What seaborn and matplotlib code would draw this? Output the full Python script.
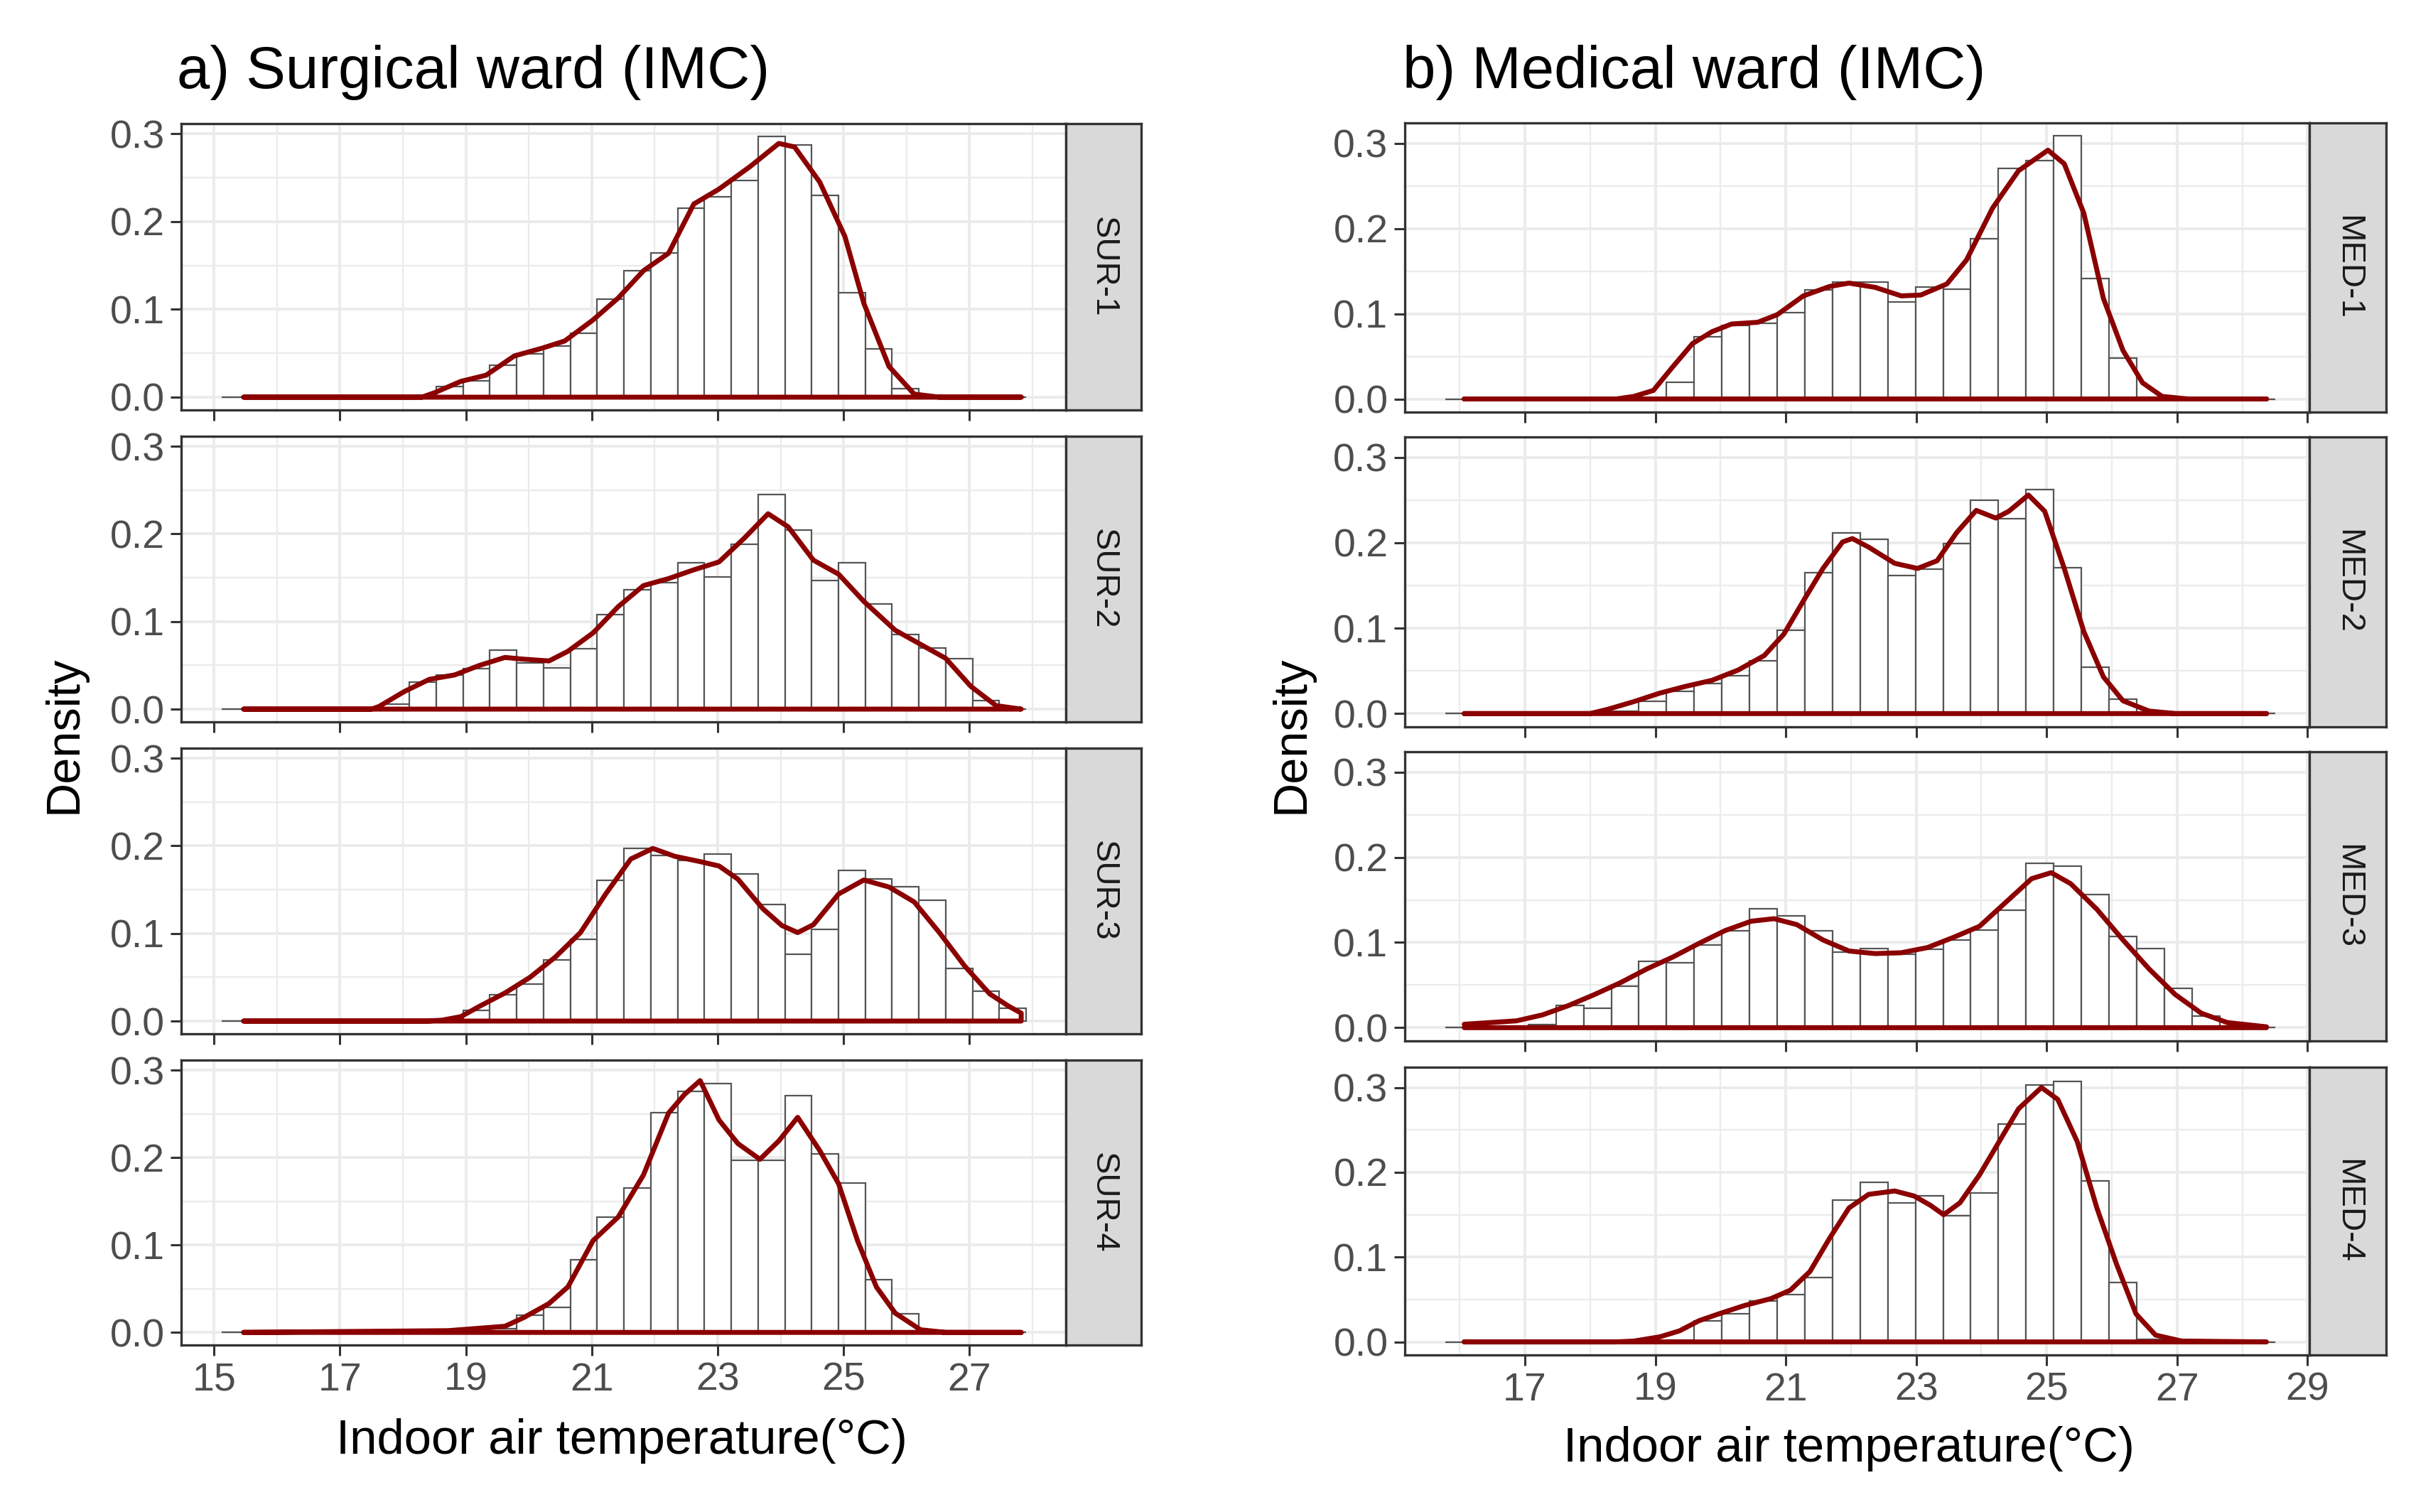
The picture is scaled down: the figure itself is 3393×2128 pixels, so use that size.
import numpy as np
import pandas as pd
import matplotlib
matplotlib.use("Agg")
import matplotlib.pyplot as plt
import seaborn as sns
from matplotlib.ticker import FixedLocator

sns.set_theme(style="white")
plt.rcParams['font.family'] = ['Liberation Sans', 'DejaVu Sans']

# histogram bins (30 bins per ward, shared across the facets of one ward)
sur_bin_start, sur_bin_width = 15.12, 0.426
med_bin_start, med_bin_width = 15.78, 0.424
n_bins = 30

# bar heights (density), one value per bin
sur1_hist = [0, 0, 0, 0, 0, 0, 0, 0, 0.012, 0.019, 0.036, 0.049, 0.058, 0.073, 0.112,
             0.144, 0.164, 0.215, 0.228, 0.247, 0.297, 0.287, 0.230, 0.119, 0.055, 0.010,
             0, 0, 0, 0]
sur2_hist = [0, 0, 0, 0, 0, 0, 0.006, 0.031, 0.039, 0.046, 0.067, 0.053, 0.047, 0.069,
             0.108, 0.136, 0.144, 0.167, 0.151, 0.188, 0.245, 0.204, 0.147, 0.167, 0.120,
             0.085, 0.070, 0.058, 0.010, 0]
sur3_hist = [0, 0, 0, 0, 0, 0, 0, 0, 0, 0.012, 0.030, 0.042, 0.070, 0.093, 0.161, 0.197,
             0.189, 0.183, 0.191, 0.168, 0.133, 0.076, 0.105, 0.172, 0.162, 0.153, 0.138,
             0.060, 0.034, 0.015]
sur4_hist = [0, 0, 0, 0, 0, 0, 0, 0, 0, 0, 0.004, 0.020, 0.029, 0.083, 0.132, 0.165,
             0.251, 0.276, 0.285, 0.197, 0.197, 0.271, 0.204, 0.171, 0.060, 0.021,
             0, 0, 0, 0]
med1_hist = [0, 0, 0, 0, 0, 0, 0, 0, 0.020, 0.073, 0.086, 0.089, 0.101, 0.128, 0.137,
             0.137, 0.114, 0.131, 0.129, 0.188, 0.271, 0.280, 0.309, 0.141, 0.048, 0.002,
             0, 0, 0, 0]
med2_hist = [0, 0, 0, 0, 0, 0, 0.003, 0.014, 0.026, 0.035, 0.044, 0.062, 0.098, 0.165,
             0.212, 0.204, 0.162, 0.169, 0.199, 0.250, 0.228, 0.262, 0.171, 0.054, 0.017,
             0, 0, 0, 0, 0]
med3_hist = [0, 0, 0, 0.004, 0.026, 0.023, 0.049, 0.078, 0.076, 0.097, 0.114, 0.140,
             0.131, 0.114, 0.089, 0.093, 0.086, 0.092, 0.103, 0.115, 0.138, 0.193, 0.190,
             0.156, 0.107, 0.093, 0.046, 0.014, 0.002, 0]
med4_hist = [0, 0, 0, 0, 0, 0, 0, 0, 0.002, 0.025, 0.033, 0.048, 0.056, 0.076, 0.167,
             0.188, 0.164, 0.172, 0.149, 0.176, 0.257, 0.303, 0.307, 0.190, 0.070, 0.003,
             0, 0, 0, 0]

# density curves
sur1_dx = [15.47, 18.30, 18.50, 18.92, 19.32, 19.77, 20.22, 20.57, 21.02, 21.42, 21.82,
           22.22, 22.62, 23.02, 23.52, 23.97, 24.22, 24.62, 25.02, 25.32, 25.72, 26.12,
           26.52, 27.82]
sur1_dy = [0, 0, 0.005, 0.018, 0.025, 0.047, 0.056, 0.064, 0.088, 0.113, 0.144, 0.164,
           0.220, 0.237, 0.263, 0.289, 0.285, 0.245, 0.183, 0.107, 0.035, 0.0035, 0, 0]
sur2_dx = [15.47, 17.50, 17.62, 18.02, 18.42, 18.82, 19.22, 19.62, 19.92, 20.32, 20.62,
           21.02, 21.42, 21.82, 22.22, 22.62, 23.02, 23.42, 23.80, 24.12, 24.52, 24.92,
           25.32, 25.82, 26.22, 26.62, 27.02, 27.42, 27.82]
sur2_dy = [0, 0, 0.003, 0.020, 0.034, 0.039, 0.050, 0.059, 0.057, 0.055, 0.066, 0.087,
           0.117, 0.141, 0.149, 0.159, 0.168, 0.195, 0.223, 0.208, 0.170, 0.154, 0.123,
           0.090, 0.074, 0.058, 0.026, 0.004, 0]
sur3_dx = [15.47, 18.40, 18.62, 18.92, 19.22, 19.62, 20.02, 20.42, 20.82, 21.22, 21.62,
           21.97, 22.32, 22.72, 23.02, 23.32, 23.72, 24.02, 24.27, 24.52, 24.92, 25.32,
           25.72, 26.12, 26.52, 26.92, 27.32, 27.62, 27.82]
sur3_dy = [0, 0, 0.001, 0.005, 0.017, 0.032, 0.050, 0.073, 0.101, 0.145, 0.185, 0.197,
           0.188, 0.182, 0.177, 0.162, 0.128, 0.109, 0.101, 0.110, 0.145, 0.161, 0.153,
           0.136, 0.101, 0.063, 0.031, 0.017, 0.009]
sur4_dx = [15.47, 18.72, 19.62, 19.92, 20.32, 20.62, 21.02, 21.42, 21.82, 22.22, 22.47,
           22.72, 23.02, 23.32, 23.67, 23.97, 24.27, 24.62, 24.92, 25.22, 25.52, 25.82,
           26.22, 26.62, 27.82]
sur4_dy = [0, 0.002, 0.007, 0.017, 0.033, 0.052, 0.105, 0.132, 0.180, 0.251, 0.272,
           0.288, 0.243, 0.216, 0.198, 0.219, 0.246, 0.208, 0.170, 0.105, 0.052, 0.022,
           0.003, 0, 0]

med1_dx = [16.07, 18.40, 18.67, 18.97, 19.27, 19.57, 19.87, 20.17, 20.57, 20.87, 21.27,
           21.67, 21.97, 22.37, 22.77, 23.07, 23.47, 23.77, 24.17, 24.57, 25.02, 25.27,
           25.57, 25.87, 26.17, 26.47, 26.77, 27.17, 28.37]
med1_dy = [0, 0, 0.003, 0.010, 0.038, 0.065, 0.079, 0.088, 0.090, 0.099, 0.121, 0.132,
           0.136, 0.131, 0.121, 0.122, 0.135, 0.163, 0.224, 0.268, 0.292, 0.276, 0.218,
           0.118, 0.057, 0.019, 0.003, 0, 0]
med2_dx = [16.07, 18.00, 18.27, 18.67, 19.07, 19.47, 19.87, 20.27, 20.67, 20.97, 21.27,
           21.57, 21.87, 22.02, 22.27, 22.67, 23.02, 23.32, 23.62, 23.92, 24.22, 24.42,
           24.72, 24.97, 25.27, 25.57, 25.87, 26.17, 26.57, 26.97, 28.37]
med2_dy = [0, 0, 0.005, 0.014, 0.024, 0.032, 0.039, 0.051, 0.068, 0.093, 0.132, 0.170,
           0.201, 0.205, 0.195, 0.176, 0.170, 0.179, 0.212, 0.238, 0.229, 0.237, 0.256,
           0.237, 0.170, 0.096, 0.043, 0.015, 0.003, 0, 0]
med3_dx = [16.07, 16.47, 16.87, 17.27, 17.67, 18.07, 18.47, 18.87, 19.27, 19.67, 20.07,
           20.47, 20.82, 21.17, 21.57, 21.97, 22.37, 22.77, 23.17, 23.57, 23.97, 24.37,
           24.77, 25.07, 25.37, 25.77, 26.17, 26.57, 26.97, 27.37, 27.77, 28.37]
med3_dy = [0.004, 0.006, 0.008, 0.015, 0.026, 0.039, 0.053, 0.069, 0.083, 0.099, 0.114,
           0.125, 0.128, 0.121, 0.103, 0.090, 0.087, 0.088, 0.094, 0.106, 0.119, 0.147,
           0.175, 0.182, 0.169, 0.139, 0.103, 0.069, 0.039, 0.017, 0.006, 0.001]
med4_dx = [16.07, 18.40, 18.67, 19.07, 19.37, 19.67, 19.97, 20.37, 20.77, 21.07, 21.37,
           21.67, 21.97, 22.27, 22.67, 22.97, 23.22, 23.42, 23.67, 23.97, 24.27, 24.57,
           24.92, 25.17, 25.47, 25.77, 26.07, 26.37, 26.67, 27.07, 28.37]
med4_dy = [0, 0, 0.001, 0.006, 0.013, 0.025, 0.033, 0.043, 0.051, 0.061, 0.083, 0.122,
           0.158, 0.174, 0.178, 0.172, 0.161, 0.150, 0.164, 0.197, 0.236, 0.275, 0.300,
           0.286, 0.236, 0.158, 0.092, 0.033, 0.008, 0.001, 0]

sur_labels = ["SUR-1", "SUR-2", "SUR-3", "SUR-4"]
med_labels = ["MED-1", "MED-2", "MED-3", "MED-4"]
sur_ticks = [15, 17, 19, 21, 23, 25, 27]
med_ticks = [17, 19, 21, 23, 25, 27, 29]
y_ticks = [0.0, 0.1, 0.2, 0.3]

DARK = "#333333"
GRID = "#ebebeb"


def draw_panel(ax, edges, heights, dens_x, dens_y, xlim, ylim, xticks, xminor, show_x):
    centers = (edges[:-1] + edges[1:]) / 2
    df = pd.DataFrame({"temp": centers, "dens": heights})
    sns.histplot(data=df, x="temp", weights="dens", bins=list(edges), stat="count",
                 color="white", edgecolor="#555555", linewidth=0.8, alpha=1, ax=ax)
    # density outline incl. the baseline (like geom_density)
    dd = pd.DataFrame({"x": list(dens_x) + [dens_x[-1], dens_x[0]],
                       "y": list(dens_y) + [0, 0]})
    sns.lineplot(data=dd, x="x", y="y", sort=False, estimator=None, color="#8b0000",
                 linewidth=2.5, ax=ax)
    ax.set_xlim(*xlim)
    ax.set_ylim(*ylim)
    ax.xaxis.set_major_locator(FixedLocator(xticks))
    ax.xaxis.set_minor_locator(FixedLocator(xminor))
    ax.yaxis.set_major_locator(FixedLocator(y_ticks))
    ax.yaxis.set_minor_locator(FixedLocator([0.05, 0.15, 0.25]))
    ax.set_yticklabels(["0.0", "0.1", "0.2", "0.3"])
    ax.grid(which="major", color=GRID, linewidth=1.4)
    ax.grid(which="minor", color=GRID, linewidth=0.8)
    ax.set_axisbelow(True)
    ax.tick_params(which="major", left=True, bottom=True, length=5.5, width=1.1,
                   color=DARK, labelsize=20, labelcolor="#4d4d4d", pad=3)
    ax.tick_params(which="minor", length=0)
    if show_x:
        ax.set_xticklabels([str(t) for t in xticks])
    else:
        ax.set_xticklabels([])
    ax.set_xlabel("")
    ax.set_ylabel("")
    for s in ax.spines.values():
        s.set_color(DARK)
        s.set_linewidth(1.2)


def draw_strip(fig, rect, label):
    sax = fig.add_axes(rect)
    sax.set_facecolor("#d9d9d9")
    sax.set_xticks([])
    sax.set_yticks([])
    for s in sax.spines.values():
        s.set_color(DARK)
        s.set_linewidth(1.2)
    sax.text(0.5, 0.5, label, rotation=-90, ha="center", va="center",
             fontsize=17, color="#1a1a1a", transform=sax.transAxes)


fig = plt.figure(figsize=(16.965, 10.64), dpi=200)

sur_edges = sur_bin_start + sur_bin_width * np.arange(n_bins + 1)
med_edges = med_bin_start + med_bin_width * np.arange(n_bins + 1)

sur_hists = [sur1_hist, sur2_hist, sur3_hist, sur4_hist]
med_hists = [med1_hist, med2_hist, med3_hist, med4_hist]
sur_dens = [(sur1_dx, sur1_dy), (sur2_dx, sur2_dy), (sur3_dx, sur3_dy), (sur4_dx, sur4_dy)]
med_dens = [(med1_dx, med1_dy), (med2_dx, med2_dy), (med3_dx, med3_dy), (med4_dx, med4_dy)]

left_rows = [(0.7289, 0.9182), (0.5226, 0.7115), (0.3163, 0.5052), (0.1104, 0.2989)]
right_rows = [(0.7274, 0.9187), (0.5193, 0.7110), (0.3116, 0.5028), (0.1038, 0.2942)]

for i in range(4):
    b, t = left_rows[i]
    ax = fig.add_axes([0.0752, b, 0.3669, t - b])
    draw_panel(ax, sur_edges, sur_hists[i], sur_dens[i][0], sur_dens[i][1],
               (14.48, 28.53), (-0.0145, 0.3115), sur_ticks,
               [16, 18, 20, 22, 24, 26, 28], i == 3)
    draw_strip(fig, [0.4421, b, 0.0312, t - b], sur_labels[i])

    b, t = right_rows[i]
    ax = fig.add_axes([0.5827, b, 0.3752, t - b])
    draw_panel(ax, med_edges, med_hists[i], med_dens[i][0], med_dens[i][1],
               (15.16, 29.03), (-0.0155, 0.324), med_ticks,
               [16, 18, 20, 22, 24, 26, 28], i == 3)
    draw_strip(fig, [0.9579, b, 0.0318, t - b], med_labels[i])

fig.text(0.0734, 0.952, "a) Surgical ward (IMC)", ha="left", va="center",
         fontsize=30, color="black")
fig.text(0.5818, 0.952, "b) Medical ward (IMC)", ha="left", va="center",
         fontsize=30, color="black")
fig.text(0.0268, 0.514, "Density", rotation=90, ha="center", va="center",
         fontsize=24, color="black")
fig.text(0.5358, 0.514, "Density", rotation=90, ha="center", va="center",
         fontsize=24, color="black")
fig.text(0.258, 0.047, "Indoor air temperature(°C)", ha="center", va="center",
         fontsize=24.8, color="black")
fig.text(0.767, 0.042, "Indoor air temperature(°C)", ha="center", va="center",
         fontsize=24.8, color="black")

fig.savefig("out.png", dpi=200, facecolor="white")
